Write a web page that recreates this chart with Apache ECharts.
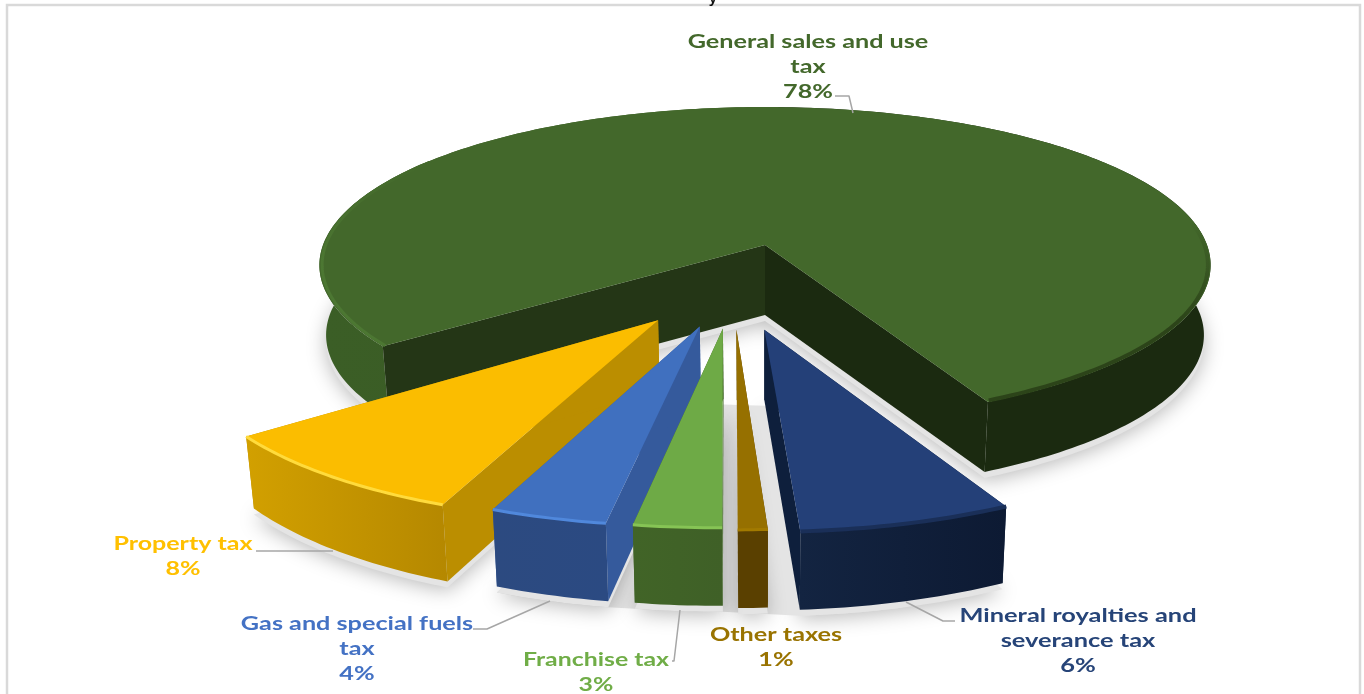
<!DOCTYPE html>
<html>
<head>
<meta charset="utf-8">
<style>html,body{margin:0;padding:0;background:#fff}#c{width:1364px;height:694px}</style>
<script src="https://cdn.jsdelivr.net/npm/echarts@6/dist/echarts.min.js"></script>
</head>
<body>
<div id="c"></div>
<script>
// ---- data ----
var categories = ['General sales and use\ntax', 'Mineral royalties and\nseverance tax', 'Other taxes', 'Franchise tax', 'Gas and special fuels\ntax', 'Property tax'];
var shares = [77.9, 6.5, 0.9, 2.7, 3.6, 8.4];
var shareLabels = ['78%', '6%', '1%', '3%', '4%', '8%'];

// ---- look of each slice, same order as the data ----
var topColors = ['#43682B', '#244078', '#967000', '#6EAA46', '#4070BF', '#FBBD00'];
var labelColors = ['#43682B', '#264478', '#997300', '#70AD47', '#4472C4', '#FFC000'];
var innerColors = ['#1B2A10', '#0E1F3C', '#5A4000', '#416427', '#355A9C', '#BB8E00'];
var wallFrom = ['#1B2A10', '#132441', '#5A4000', '#416427', '#2C4A80', '#D2A000'];
var wallTo = ['#1B2A10', '#0D1A33', '#5A4000', '#3F6027', '#2B4A82', '#B58800'];
var bevelColors = ['#2C4419', '#1A2F58', '#A27A00', '#86C455', '#5088DC', '#FFDB3C'];
var radii = [1, 0.985, 0.98, 0.975, 0.98, 0.995];
// left side of the large slice has its own lighter shading
var largeLeft = { wallFrom: '#3B5E26', wallTo: '#3A5A24', inner: '#243616', bevel: '#4C7732' };

// ---- label layout: block centre, horizontal stretch, leader line ----
var labelBox = [
  { x: 808, y: 67, sx: 1.4, leader: [[835, 96], [849, 96], [853, 113]] },
  { x: 1078, y: 641, sx: 1.41, leader: [[906, 602], [943, 621], [955, 621]] },
  { x: 776, y: 648, sx: 1.4, leader: [] },
  { x: 596, y: 673, sx: 1.38, leader: [[672, 661], [674, 661], [680, 610]] },
  { x: 357, y: 649, sx: 1.4, leader: [[473, 629], [487, 629], [550, 601]] },
  { x: 183, y: 557, sx: 1.39, leader: [[256, 551], [333, 551]] }
];

// ---- view of the disc ----
var CX = 765, CY = 245, RX = 442, RY = 155.5, PERSP = 0.127;
var START_DEG = -53, EXPLODE = 0.51, PULLED_TURN = 0.7;
var total = shares.reduce(function (a, b) { return a + b; }, 0);

function scaleAt(v) { return 1 / (1 - PERSP * v); }
function topPt(u, v) { var s = scaleAt(v); return [CX + RX * u * s, CY + RY * v * s]; }
function drop(v) { var s = scaleAt(v); return 70 + Math.max(0, s - 1.13) * 80; }
function botPt(u, v) { var p = topPt(u, v); return [CX + (p[0] - CX) * 0.985, p[1] + drop(v)]; }

function sliceGeometry(i) {
  var before = 0;
  for (var k = 0; k < i; k++) before += shares[k];
  var a0 = START_DEG - before / total * 360;            // clockwise means decreasing
  var a1 = a0 - shares[i] / total * 360;
  var mid = (((a0 + a1) / 2 + 540) % 360) - 180;
  var du = 0, dv = 0;
  if (i > 0) {
    var dir = (0.5 * mid - 7.6) * Math.PI / 180;
    du = EXPLODE * Math.sin(dir); dv = EXPLODE * Math.cos(dir);
    a0 += PULLED_TURN; a1 += PULLED_TURN;
  }
  return { a0: a0, a1: a1, du: du, dv: dv, r: radii[i] };
}
function arc(g, from, to, fn, shrink) {
  var pts = [], n = Math.max(2, Math.ceil(Math.abs(to - from))), r = g.r * (shrink || 1);
  for (var j = 0; j <= n; j++) {
    var t = (from + (to - from) * j / n) * Math.PI / 180;
    pts.push(fn(r * Math.sin(t) + g.du, r * Math.cos(t) + g.dv));
  }
  return pts;
}
function hgrad(a, b) { return new echarts.graphic.LinearGradient(0, 0, 1, 0, [{ offset: 0, color: a }, { offset: 1, color: b }]); }
function vgrad(a, b) { return new echarts.graphic.LinearGradient(0, 0, 0, 1, [{ offset: 0, color: a }, { offset: 0.55, color: b }, { offset: 1, color: b }]); }
function poly(points, fill, z2) {
  return { type: 'polygon', shape: { points: points }, style: { fill: fill }, z2: z2 };
}
function line(points, stroke, width, z2) {
  return { type: 'polyline', shape: { points: points }, style: { fill: null, stroke: stroke, lineWidth: width, lineJoin: 'round' }, z2: z2, silent: true };
}
function rimBand(g, from, to) {
  return arc(g, from, to, topPt).concat(arc(g, from, to, botPt).reverse());
}

function renderShadow(params, api) {
  var i = params.dataIndex, g = sliceGeometry(i), children = [];
  var base = [botPt(g.du, g.dv)].concat(arc(g, g.a0, g.a1, botPt));
  children.push({
    type: 'polygon', shape: { points: base }, x: 0, y: 6,
    style: { fill: '#e4e4e4', shadowBlur: 20, shadowColor: 'rgba(0,0,0,0.28)', shadowOffsetY: 3 }
  });
  if (i === 1) {
    // grey floor seen through the gaps between the pulled-out slices
    var gas = sliceGeometry(4), fr = sliceGeometry(3), mi = sliceGeometry(1);
    var floor = arc(gas, gas.a1, gas.a0, botPt)
      .concat(arc(fr, fr.a1, fr.a0, botPt))
      .concat(arc(mi, mi.a1, mi.a0 - 12, botPt))
      .concat([botPt(mi.du, mi.dv), botPt(fr.du, fr.dv)]);
    children.push({ type: 'polygon', shape: { points: floor }, x: 0, y: 6, style: { fill: '#e4e4e4' } });
  }
  return { type: 'group', children: children };
}

function renderSlice(params, api) {
  var i = params.dataIndex, n = shares.length;
  var rank = i === 0 ? 0 : n - i;
  var z = 10 + rank * 10;
  var g = sliceGeometry(i), kids = [];
  var apexTop = topPt(g.du, g.dv), apexBot = botPt(g.du, g.dv);
  var c0 = arc(g, g.a0, g.a0, topPt)[0], c1 = arc(g, g.a1, g.a1, topPt)[0];
  var b0 = arc(g, g.a0, g.a0, botPt)[0], b1 = arc(g, g.a1, g.a1, botPt)[0];

  if (i === 0) {
    kids.push(poly(rimBand(g, g.a0, -180), hgrad(largeLeft.wallFrom, largeLeft.wallTo), z));
    kids.push(poly(rimBand(g, g.a1, -180), wallFrom[0], z));
    kids.push(poly([apexTop, c0, b0, apexBot], largeLeft.inner, z + 1));
    kids.push(poly([apexTop, c1, b1, apexBot], innerColors[0], z + 1));
  } else {
    kids.push(poly([apexTop, c0, b0, apexBot], innerColors[i], z));
    kids.push(poly([apexTop, c1, b1, apexBot], innerColors[i], z));
    kids.push(poly(rimBand(g, g.a0, g.a1), hgrad(wallFrom[i], wallTo[i]), z + 1));
  }
  kids.push(poly([apexTop].concat(arc(g, g.a0, g.a1, topPt)), topColors[i], z + 2));
  if (i === 0) {
    kids.push(line(arc(g, g.a0, -125, topPt, 0.994), vgrad(topColors[0], largeLeft.bevel), 3, z + 3));
    kids.push(line(arc(g, g.a1 + 0.3, g.a1 + 72, topPt, 0.994), vgrad(topColors[0], bevelColors[0]), 4, z + 3));
  } else {
    kids.push(line(arc(g, g.a0, g.a1, topPt), bevelColors[i], i === 1 ? 4 : 3, z + 3));
  }

  var box = labelBox[i];
  kids.push({
    type: 'text', x: box.x, y: box.y, scaleX: box.sx, scaleY: 1, z2: 200,
    style: {
      text: categories[i] + '\n' + shareLabels[i], fill: labelColors[i], align: 'center', verticalAlign: 'middle',
      fontFamily: 'Lato', fontWeight: 'bold', fontSize: 18, lineHeight: 25
    }
  });
  if (box.leader.length) kids.push(line(box.leader, '#A6A6A6', 1.5, 199));
  return { type: 'group', children: kids };
}

var chart = echarts.init(document.getElementById('c'), null, { renderer: 'canvas' });
var seriesData = shares.map(function (s) { return [s]; });
chart.setOption({
  animation: false,
  backgroundColor: '#fff',
  graphic: [
    { type: 'rect', shape: { x: 7, y: 5, width: 1353, height: 800 }, style: { fill: null, stroke: '#D9D9D9', lineWidth: 2.5 }, silent: true },
    { type: 'text', x: 713, y: -9, style: { text: 'y', fontFamily: 'Liberation Sans', fontWeight: 'bold', fontSize: 15, fill: '#111', align: 'center' }, silent: true }
  ],
  series: [
    { type: 'custom', coordinateSystem: 'none', z: 1, silent: true, clip: false, data: seriesData, renderItem: renderShadow },
    { type: 'custom', coordinateSystem: 'none', z: 2, silent: true, clip: false, data: seriesData, renderItem: renderSlice }
  ]
});
</script>
</body>
</html>
